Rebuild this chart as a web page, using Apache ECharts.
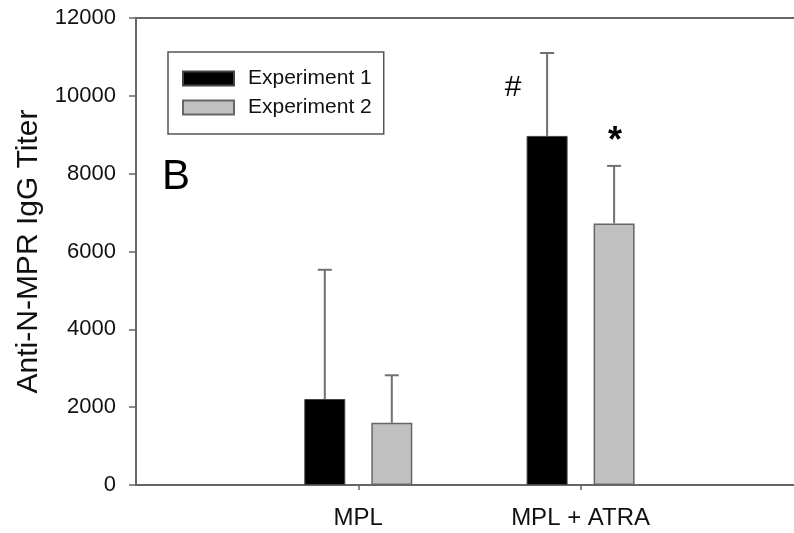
<!DOCTYPE html>
<html>
<head>
<meta charset="utf-8">
<script src="https://cdn.jsdelivr.net/npm/echarts@6/dist/echarts.min.js"></script>
<style>
  html, body { margin: 0; padding: 0; background: #fff; }
  #chart { width: 794px; height: 533px; }
</style>
</head>
<body>
<div id="chart"></div>
<script>
// Treatment groups
const categories = ['MPL', 'MPL + ATRA'];
// Mean anti-N-MPR IgG titers and their standard deviations
const exp1Values = [2210, 8970];
const exp1Errors = [3320, 2130];
const exp2Values = [1600, 6720];
const exp2Errors = [1220, 1480];
// Significance marks above each bar
const exp1Marks = ['', '#'];
const exp2Marks = ['', '*'];
const yTicks = [0, 2000, 4000, 6000, 8000, 10000, 12000];

const BAR_W = 41;
const GAP_PX = 26;
const HALF_STEP = (BAR_W + GAP_PX) / 2;
const AXIS_COLOR = '#666';
const FONT = 'Liberation Sans, Arial, sans-serif';

// Groups sit at positions 1, 2 on a numeric x scale that runs a little past 3
const groupPos = categories.map((c, i) => i + 1);
const X_MAX = 2.96;
const asPairs = vals => vals.map((v, i) => [groupPos[i], v]);

function errorSeries(name, values, errors, marks, side, markStyle) {
  return {
    type: 'custom',
    name: name + ' SD',
    z: 3,
    silent: true,
    data: values.map((v, i) => [groupPos[i], v, errors[i], i]),
    renderItem: function (params, api) {
      const gx = api.value(0);
      const v = api.value(1);
      const e = api.value(2);
      const base = api.coord([gx, v]);
      const topP = api.coord([gx, v + e]);
      const x = base[0] + side * HALF_STEP;
      const cap = 7;
      const style = { stroke: '#707070', lineWidth: 2 };
      const children = [
        { type: 'line', shape: { x1: x, y1: base[1], x2: x, y2: topP[1] }, style: style },
        { type: 'line', shape: { x1: x - cap, y1: topP[1], x2: x + cap, y2: topP[1] }, style: style }
      ];
      const mark = marks[api.value(3)];
      if (mark) {
        children.push({
          type: 'text',
          style: Object.assign({
            text: mark, x: x + markStyle.dx, y: topP[1] + markStyle.dy,
            textAlign: 'center', textVerticalAlign: 'middle', fill: '#000',
            fontFamily: FONT
          }, markStyle.font)
        });
      }
      return { type: 'group', children: children };
    }
  };
}

const chart = echarts.init(document.getElementById('chart'), null, { renderer: 'canvas' });
chart.setOption({
  animation: false,
  backgroundColor: '#fff',
  grid: { left: 136, right: 0, top: 18, bottom: 48 },
  legend: {
    orient: 'vertical',
    left: 168,
    top: 52,
    padding: [16, 12, 16, 14],
    borderColor: '#555',
    borderWidth: 1.5,
    itemWidth: 51,
    itemHeight: 14,
    itemGap: 8,
    icon: 'rect',
    textStyle: { fontSize: 21, lineHeight: 20, color: '#111', fontFamily: FONT, padding: [0, 0, 0, 9] },
    data: ['Experiment 1', 'Experiment 2']
  },
  xAxis: [
    {
      type: 'value',
      min: 0,
      max: X_MAX,
      axisLine: { show: true, onZero: false, lineStyle: { color: AXIS_COLOR, width: 2 } },
      axisTick: {
        show: true, length: 5, inside: false,
        customValues: groupPos,
        lineStyle: { color: AXIS_COLOR, width: 1.5 }
      },
      axisLabel: {
        fontSize: 24, color: '#111', fontFamily: FONT, margin: 21,
        customValues: groupPos,
        formatter: (v) => categories[Math.round(v) - 1] || ''
      },
      splitLine: { show: false }
    },
    {
      type: 'value',
      position: 'top',
      min: 0,
      max: X_MAX,
      axisLine: { show: true, onZero: false, lineStyle: { color: AXIS_COLOR, width: 2 } },
      axisTick: { show: false },
      axisLabel: { show: false },
      splitLine: { show: false }
    }
  ],
  yAxis: {
    type: 'value',
    min: yTicks[0],
    max: yTicks[yTicks.length - 1],
    interval: yTicks[1] - yTicks[0],
    name: 'Anti-N-MPR IgG Titer',
    nameLocation: 'middle',
    nameGap: 92,
    nameRotate: 90,
    nameTextStyle: { fontSize: 30, color: '#111', fontFamily: FONT },
    axisLine: { show: true, onZero: false, lineStyle: { color: AXIS_COLOR, width: 2 } },
    axisTick: { show: true, length: 7, lineStyle: { color: AXIS_COLOR, width: 1.5 } },
    axisLabel: { fontSize: 22, color: '#111', fontFamily: FONT, margin: 20, formatter: (v) => String(v) },
    splitLine: { show: false }
  },
  series: [
    {
      name: 'Experiment 1',
      type: 'bar',
      data: asPairs(exp1Values),
      barWidth: BAR_W,
      barGap: (GAP_PX / BAR_W * 100) + '%',
      itemStyle: { color: '#000', borderColor: '#444', borderWidth: 1 }
    },
    {
      name: 'Experiment 2',
      type: 'bar',
      data: asPairs(exp2Values),
      barWidth: BAR_W,
      itemStyle: { color: '#c0c0c0', borderColor: '#666', borderWidth: 1.5 }
    },
    errorSeries('Experiment 1', exp1Values, exp1Errors, exp1Marks, -1,
      { dx: -34, dy: 35, font: { fontSize: 30 } }),
    errorSeries('Experiment 2', exp2Values, exp2Errors, exp2Marks, 1,
      { dx: 1, dy: -24, font: { fontSize: 36, fontWeight: 'bold' } })
  ],
  graphic: [
    {
      type: 'text',
      left: 162,
      top: 156,
      style: { text: 'B', fontSize: 42, fill: '#000', fontFamily: FONT }
    }
  ]
});
</script>
</body>
</html>
